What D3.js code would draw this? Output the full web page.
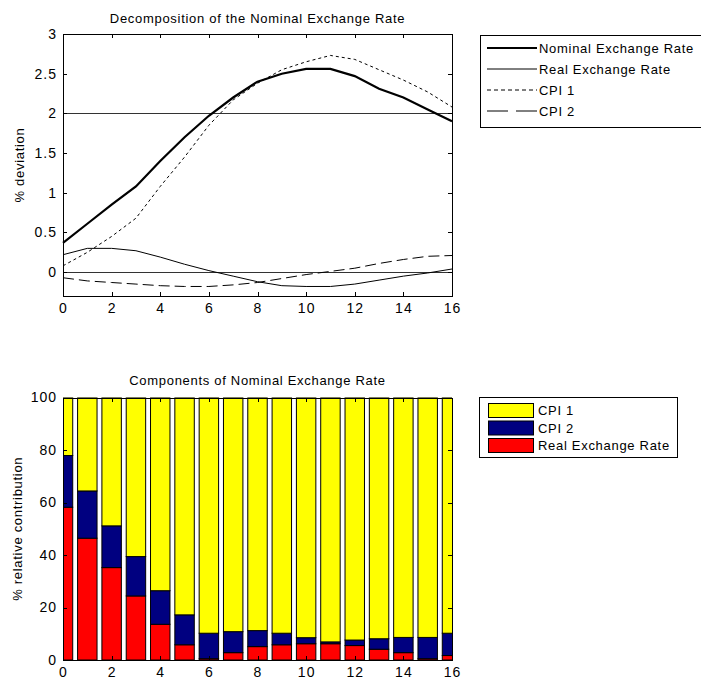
<!DOCTYPE html>
<html lang="en">
	<head>
		<meta charset="utf-8">
		<title>Decomposition of the Nominal Exchange Rate</title>
		<script type="text/javascript" src="https://cdn.jsdelivr.net/npm/d3@7"></script>
		<style type="text/css">
			body {
				margin: 0;
				background: white;
				}
			text {
				font-family: "Liberation Sans", Arial, sans-serif;
				font-size: 13px;
				letter-spacing: 0.7px;
				fill: black;
				}
			.axis path,
			.axis line {
				stroke: black;
				shape-rendering: crispEdges;
				}
			.axis text {
				font-size: 14px;
				letter-spacing: 1px;
				}
		</style>
	</head>
	<body>
		<script type="text/javascript">

			var w = 701;
			var h = 683;

			// horizon (quarters)
			var horizons = [0, 1, 2, 3, 4, 5, 6, 7, 8, 9, 10, 11, 12, 13, 14, 15, 16];

			// top panel, % deviation
			var nominal = [0.37, 0.61, 0.85, 1.08, 1.40, 1.70, 1.97, 2.20, 2.40, 2.50, 2.56, 2.56, 2.47, 2.31, 2.20, 2.05, 1.90];
			var realRate = [0.22, 0.30, 0.30, 0.27, 0.19, 0.10, 0.02, -0.05, -0.12, -0.17, -0.18, -0.18, -0.15, -0.10, -0.05, -0.01, 0.04];
			var cpi1 = [0.08, 0.25, 0.45, 0.68, 1.08, 1.45, 1.85, 2.17, 2.38, 2.55, 2.65, 2.73, 2.68, 2.55, 2.42, 2.27, 2.08];
			var cpi2 = [-0.07, -0.11, -0.13, -0.15, -0.17, -0.18, -0.18, -0.16, -0.13, -0.08, -0.03, 0.01, 0.05, 0.11, 0.16, 0.20, 0.21];
			var refLines = [0, 2];

			// bottom panel, % relative contribution
			var shareReal = [58.2, 46.4, 35.2, 24.4, 13.6, 5.8, 0.5, 2.8, 5.1, 5.8, 6.2, 6.2, 5.5, 4.1, 2.8, 0.5, 1.7];
			var shareCpi2 = [19.7, 18.0, 15.9, 15.0, 12.8, 11.4, 9.7, 8.0, 6.1, 4.4, 2.3, 0.7, 2.1, 4.0, 5.8, 8.1, 8.5];
			var shareCpi1 = [22.1, 35.6, 48.9, 60.6, 73.6, 82.8, 89.8, 89.2, 88.8, 89.8, 91.5, 93.1, 92.4, 91.9, 91.4, 91.4, 89.8];

			var xTicks = [0, 2, 4, 6, 8, 10, 12, 14, 16];
			var yTicksTop = [0, 0.5, 1, 1.5, 2, 2.5, 3];
			var yTicksBottom = [0, 20, 40, 60, 80, 100];

			var svg = d3.select("body")
						.append("svg")
						.attr("width", w)
						.attr("height", h);

			// ---------- top panel ----------
			var xScale = d3.scaleLinear()
							.domain([0, 16])
							.range([63, 452]);

			var yScale = d3.scaleLinear()
							.domain([-0.3, 3])
							.range([296, 34]);

			// frame axes (ticks point inward like matlab)
			function drawFrame(g, xs, ys, yTicks, yFmt) {
				var x0 = xs.range()[0], x1 = xs.range()[1];
				var y0 = ys.range()[0], y1 = ys.range()[1];

				g.append("g")
					.attr("class", "axis")
					.attr("transform", "translate(0," + y0 + ")")
					.call(d3.axisBottom(xs).tickValues(xTicks).tickSizeInner(-4).tickSizeOuter(0).tickPadding(7).tickFormat(d3.format("~g")));
				g.append("g")
					.attr("class", "axis")
					.attr("transform", "translate(0," + y1 + ")")
					.call(d3.axisTop(xs).tickValues(xTicks).tickSizeInner(-4).tickSizeOuter(0).tickFormat(""));
				g.append("g")
					.attr("class", "axis")
					.attr("transform", "translate(" + x0 + ",0)")
					.call(d3.axisLeft(ys).tickValues(yTicks).tickSizeInner(-4).tickSizeOuter(0).tickPadding(6).tickFormat(yFmt));
				g.append("g")
					.attr("class", "axis")
					.attr("transform", "translate(" + x1 + ",0)")
					.call(d3.axisRight(ys).tickValues(yTicks).tickSizeInner(-4).tickSizeOuter(0).tickFormat(""));
			}

			var topPanel = svg.append("g");

			topPanel.selectAll("line.ref")
				.data(refLines)
				.enter()
				.append("line")
				.attr("class", "ref")
				.attr("x1", xScale(0))
				.attr("x2", xScale(16))
				.attr("y1", function(d) { return yScale(d); })
				.attr("y2", function(d) { return yScale(d); })
				.attr("stroke", "#333")
				.attr("stroke-width", 1)
				.attr("shape-rendering", "crispEdges");

			var series = [
				{name: "Nominal Exchange Rate", values: nominal, width: 2.2, dash: null, legendDash: null},
				{name: "Real Exchange Rate", values: realRate, width: 1, dash: null, legendDash: null},
				{name: "CPI 1", values: cpi1, width: 1, dash: "3,3", legendDash: "4,3"},
				{name: "CPI 2", values: cpi2, width: 1, dash: "11,5", legendDash: "21,8"}
			];

			var line = d3.line()
						.x(function(d, i) { return xScale(horizons[i]); })
						.y(function(d) { return yScale(d); });

			topPanel.selectAll("path.series")
				.data(series)
				.enter()
				.append("path")
				.attr("class", "series")
				.attr("d", function(d) { return line(d.values); })
				.attr("fill", "none")
				.attr("stroke", "black")
				.attr("stroke-width", function(d) { return d.width; })
				.attr("stroke-dasharray", function(d) { return d.dash; });

			drawFrame(topPanel, xScale, yScale, yTicksTop, d3.format("~g"));

			topPanel.append("text")
				.attr("x", (xScale(0) + xScale(16)) / 2)
				.attr("y", 23)
				.attr("text-anchor", "middle")
				.text("Decomposition of the Nominal Exchange Rate");

			topPanel.append("text")
				.attr("transform", "translate(24," + (yScale(3) + yScale(-0.3)) / 2 + ") rotate(-90)")
				.attr("text-anchor", "middle")
				.text("% deviation");

			// legend top
			var legTop = topPanel.append("g");
			legTop.append("rect")
				.attr("x", 480.5)
				.attr("y", 35.5)
				.attr("width", 230)
				.attr("height", 92)
				.attr("fill", "white")
				.attr("stroke", "black");

			var rowsTop = legTop.selectAll("g.row")
				.data(series)
				.enter()
				.append("g")
				.attr("class", "row")
				.attr("transform", function(d, i) { return "translate(0," + (48 + i * 21) + ")"; });

			rowsTop.append("line")
				.attr("x1", 487)
				.attr("x2", 537)
				.attr("stroke", "black")
				.attr("stroke-width", function(d) { return d.width; })
				.attr("stroke-dasharray", function(d) { return d.legendDash; });

			rowsTop.append("text")
				.attr("x", 539)
				.attr("y", 4.5)
				.text(function(d) { return d.name; });

			// ---------- bottom panel ----------
			var yScale2 = d3.scaleLinear()
							.domain([0, 100])
							.range([660, 397.5]);

			var table = horizons.map(function(hz, i) {
				return {h: hz, real: shareReal[i], cpi2: shareCpi2[i], cpi1: shareCpi1[i]};
			});

			var keys = ["real", "cpi2", "cpi1"];
			var colors = {real: "#ff0000", cpi2: "#000080", cpi1: "#ffff00"};
			var labels = {real: "Real Exchange Rate", cpi2: "CPI 2", cpi1: "CPI 1"};

			var stacked = d3.stack().keys(keys)(table);

			var bottomPanel = svg.append("g");

			bottomPanel.append("clipPath")
				.attr("id", "barclip")
				.append("rect")
				.attr("x", xScale(0))
				.attr("y", yScale2(100))
				.attr("width", xScale(16) - xScale(0))
				.attr("height", yScale2(0) - yScale2(100));

			var barWidth = 0.8;

			bottomPanel.append("g")
				.attr("clip-path", "url(#barclip)")
				.selectAll("g.layer")
				.data(stacked)
				.enter()
				.append("g")
				.attr("class", "layer")
				.attr("fill", function(d) { return colors[d.key]; })
				.selectAll("rect")
				.data(function(d) { return d; })
				.enter()
				.append("rect")
				.attr("x", function(d) { return xScale(d.data.h - barWidth / 2); })
				.attr("width", xScale(barWidth) - xScale(0))
				.attr("y", function(d) { return yScale2(d[1]); })
				.attr("height", function(d) { return yScale2(d[0]) - yScale2(d[1]); })
				.attr("stroke", "black")
				.attr("stroke-width", 1);

			drawFrame(bottomPanel, xScale, yScale2, yTicksBottom, d3.format("~g"));

			bottomPanel.append("text")
				.attr("x", (xScale(0) + xScale(16)) / 2)
				.attr("y", 385)
				.attr("text-anchor", "middle")
				.text("Components of Nominal Exchange Rate");

			bottomPanel.append("text")
				.attr("transform", "translate(22," + (yScale2(0) + yScale2(100)) / 2 + ") rotate(-90)")
				.attr("text-anchor", "middle")
				.text("% relative contribution");

			// legend bottom
			var legBottom = bottomPanel.append("g");
			legBottom.append("rect")
				.attr("x", 479.5)
				.attr("y", 397.5)
				.attr("width", 198)
				.attr("height", 60)
				.attr("fill", "white")
				.attr("stroke", "black");

			var legendKeys = ["cpi1", "cpi2", "real"];

			var rowsBottom = legBottom.selectAll("g.row")
				.data(legendKeys)
				.enter()
				.append("g")
				.attr("class", "row")
				.attr("transform", function(d, i) { return "translate(0," + (410.5 + i * 17.5) + ")"; });

			rowsBottom.append("rect")
				.attr("x", 488.5)
				.attr("y", -7)
				.attr("width", 45)
				.attr("height", 14)
				.attr("fill", function(d) { return colors[d]; })
				.attr("stroke", "black");

			rowsBottom.append("text")
				.attr("x", 538)
				.attr("y", 4.5)
				.text(function(d) { return labels[d]; });

		</script>
	</body>
</html>
